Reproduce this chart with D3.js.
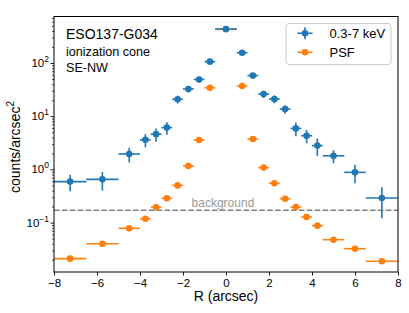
<!DOCTYPE html>
<html>
<head>
<meta charset="utf-8">
<script src="https://cdn.jsdelivr.net/npm/d3@7"></script>
<style>
  body { margin: 0; background: #fff; }
  svg { font-family: "Liberation Sans", Arial, sans-serif; }
</style>
</head>
<body>
<div id="chart"></div>
<script>
// data
var radius = [-7.25, -5.75, -4.5, -3.75, -3.25, -2.75, -2.25, -1.75, -1.25, -0.75, 0,
              0.75, 1.25, 1.75, 2.25, 2.75, 3.25, 3.75, 4.25, 5, 6, 7.25];
var radiusErr = [0.75, 0.75, 0.5, 0.25, 0.25, 0.25, 0.25, 0.25, 0.25, 0.25, 0.5,
                 0.25, 0.25, 0.25, 0.25, 0.25, 0.25, 0.25, 0.25, 0.5, 0.5, 0.75];
var countsBand = [0.59, 0.65, 1.95, 3.6, 4.6, 6.1, 20.8, 32.5, 49, 106, 435,
                  156, 58, 26, 21, 13.6, 5.9, 4.3, 2.8, 1.8, 0.88, 0.29];
var countsBandErr = [0.2, 0.25, 0.6, 1.0, 1.3, 1.6, 3.5, 4.5, 6, 9, 20,
                     11, 7, 4, 3.5, 2.5, 1.7, 1.2, 1.0, 0.5, 0.33, 0.17];
var countsPsf = [0.021, 0.040, 0.078, 0.118, 0.194, 0.286, 0.50, 1.16, 3.57, 34.3, 430,
                 37.0, 3.73, 1.08, 0.548, 0.281, 0.196, 0.127, 0.0875, 0.0477, 0.0323, 0.0187];
var background = 0.17;
var xTicks = [-8, -6, -4, -2, 0, 2, 4, 6, 8];
var yTicks = [0.1, 1, 10, 100];
var yTickExp = ['\u22121', '0', '1', '2'];
var seriesNames = ['0.3-7 keV', 'PSF'];

// constants
const W = 409, H = 313;
const LEFT = 54, RIGHT = 398, TOP = 16.5, BOTTOM = 272;
const BLUE = '#1f77b4', ORANGE = '#ff7f0e';

var svg = d3.select('#chart').append('svg')
            .attr('width', W)
            .attr('height', H);

var x = d3.scaleLinear().domain([-8, 8]).range([LEFT, RIGHT]);
var y = d3.scaleLog().domain([0.01178, 748]).range([BOTTOM, TOP]);

// x axis
var xAxis = svg.append('g')
               .attr('transform', 'translate(0,' + BOTTOM + ')')
               .call(d3.axisBottom(x).tickValues(xTicks).tickSize(3.5).tickSizeOuter(0).tickPadding(3));
xAxis.select('.domain').remove();
xAxis.selectAll('text').attr('font-size', 11.5).attr('fill', '#000').attr('font-family', null);
xAxis.selectAll('line').attr('stroke', '#000').attr('stroke-width', 0.9);

// y axis, major ticks
var yAxis = svg.append('g')
               .attr('transform', 'translate(' + LEFT + ',0)')
               .call(d3.axisLeft(y).tickValues(yTicks).tickSize(3.5).tickSizeOuter(0).tickFormat(''));
yAxis.select('.domain').remove();
yAxis.selectAll('line').attr('stroke', '#000').attr('stroke-width', 0.9);

// minor ticks
var minor = [];
for (var e = -2; e <= 2; e++) {
  for (var m = 2; m <= 9; m++) {
    var v = m * Math.pow(10, e);
    if (v > y.domain()[0] && v < y.domain()[1]) minor.push(v);
  }
}
var yMinor = svg.append('g')
                .attr('transform', 'translate(' + LEFT + ',0)')
                .call(d3.axisLeft(y).tickValues(minor).tickSize(2).tickSizeOuter(0).tickFormat(''));
yMinor.select('.domain').remove();
yMinor.selectAll('line').attr('stroke', '#000').attr('stroke-width', 0.7);

// y tick labels as 10^n
var yLab = svg.append('g').selectAll('text').data(yTicks)
              .enter().append('text')
              .attr('x', LEFT - 5)
              .attr('y', d => y(d) + 4)
              .attr('text-anchor', 'end')
              .attr('font-size', 11.5);
yLab.append('tspan').text('10');
yLab.append('tspan').attr('dy', -5).attr('font-size', 8.5).text((d, i) => yTickExp[i]);

// axis titles
svg.append('text')
   .attr('x', (LEFT + RIGHT) / 2)
   .attr('y', 301)
   .attr('text-anchor', 'middle')
   .attr('font-size', 14)
   .text('R (arcsec)');

var yTitle = svg.append('text')
                .attr('transform', 'translate(20,147) rotate(-90)')
                .attr('text-anchor', 'middle')
                .attr('font-size', 14);
yTitle.append('tspan').text('counts/arcsec');
yTitle.append('tspan').attr('dy', -6).attr('font-size', 10).text('2');

// background level
svg.append('line')
   .attr('x1', LEFT).attr('x2', RIGHT)
   .attr('y1', y(background)).attr('y2', y(background))
   .attr('stroke', '#808080')
   .attr('stroke-width', 1.5)
   .attr('stroke-dasharray', '5.5,2.4');

svg.append('text')
   .attr('x', x(-1.6))
   .attr('y', y(background) - 3)
   .attr('font-size', 12)
   .attr('fill', '#999')
   .text('background');

// error bar series
function drawSeries(vals, errs, color, showY) {
  var pts = radius.map((r, i) => ({r: r, re: radiusErr[i], v: vals[i], ve: errs ? errs[i] : 0}));
  var g = svg.append('g');
  g.selectAll('line.xe').data(pts).enter().append('line')
   .attr('x1', d => x(d.r - d.re)).attr('x2', d => x(d.r + d.re))
   .attr('y1', d => y(d.v)).attr('y2', d => y(d.v))
   .attr('stroke', color).attr('stroke-width', 1.6);
  if (showY) {
    g.selectAll('line.ye').data(pts).enter().append('line')
     .attr('x1', d => x(d.r)).attr('x2', d => x(d.r))
     .attr('y1', d => y(d.v - d.ve)).attr('y2', d => y(d.v + d.ve))
     .attr('stroke', color).attr('stroke-width', 1.6);
  }
  g.selectAll('circle').data(pts).enter().append('circle')
   .attr('cx', d => x(d.r)).attr('cy', d => y(d.v))
   .attr('r', 3.3)
   .attr('fill', color);
}

drawSeries(countsPsf, null, ORANGE, false);
drawSeries(countsBand, countsBandErr, BLUE, true);

// frame
svg.append('rect')
   .attr('x', LEFT).attr('y', TOP)
   .attr('width', RIGHT - LEFT).attr('height', BOTTOM - TOP)
   .attr('fill', 'none')
   .attr('stroke', '#000')
   .attr('stroke-width', 1);

// labels top left
svg.append('text').attr('x', 66).attr('y', 38.7).attr('font-size', 14).text('ESO137-G034');
svg.append('text').attr('x', 66).attr('y', 55.5).attr('font-size', 12.6).text('ionization cone');
svg.append('text').attr('x', 66).attr('y', 72.3).attr('font-size', 12.6).text('SE-NW');

// legend
var legend = svg.append('g');
legend.append('rect')
      .attr('x', 286).attr('y', 23.5)
      .attr('width', 105).attr('height', 41)
      .attr('rx', 3)
      .attr('fill', '#fff').attr('fill-opacity', 0.8)
      .attr('stroke', '#ccc').attr('stroke-width', 1);

[BLUE, ORANGE].forEach(function (c, i) {
  var cy = 33.3 + i * 19;
  legend.append('line')
        .attr('x1', 297.5).attr('x2', 312.5).attr('y1', cy).attr('y2', cy)
        .attr('stroke', c).attr('stroke-width', 1.6);
  if (i === 0) {
    legend.append('line')
          .attr('x1', 305).attr('x2', 305).attr('y1', cy - 6).attr('y2', cy + 6)
          .attr('stroke', c).attr('stroke-width', 1.6);
  }
  legend.append('circle').attr('cx', 305).attr('cy', cy).attr('r', 3.3).attr('fill', c);
  legend.append('text')
        .attr('x', 329.5).attr('y', cy + 4.7)
        .attr('font-size', 13)
        .text(seriesNames[i]);
});
</script>
</body>
</html>
